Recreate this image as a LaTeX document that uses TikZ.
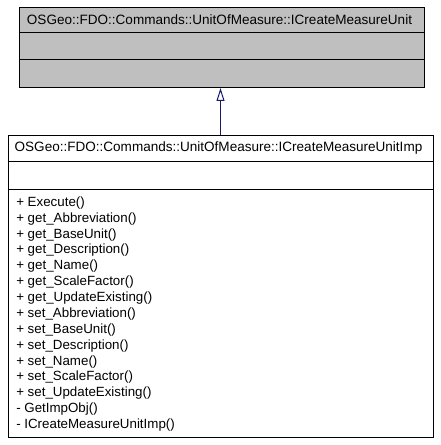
\documentclass[tikz,border=0pt]{standalone}
\usepackage{fontspec}
\setmainfont{Liberation Sans}
\usetikzlibrary{arrows.meta, positioning}
\definecolor{umlgray}{RGB}{191,191,191}
\definecolor{umlnavy}{RGB}{25,25,112}

\begin{document}
\begin{tikzpicture}[x=0.75pt,y=0.75pt,yscale=-1,xscale=1,
	classbox/.style={draw, line width=0.75pt, inner sep=0pt, anchor=north west},
	classtitle/.style={inner sep=0pt, font=\fontsize{10.15}{12}\selectfont},
	member/.style={anchor=west, inner sep=0pt, font=\fontsize{10}{12}\selectfont, text height=7.2pt, text depth=2.1pt}]
	%set diagram size 440 x 445
	\path[use as bounding box] (0,0) rectangle (440,445);
	
	%Shape: Rectangle [base class]
	\node[classbox, fill=umlgray, minimum width=303.75pt, minimum height=60pt] (base) at (19,7) {};
	%Straight Lines [base dividers]
	\draw[line width=0.75pt] (base.west |- 0,33) -- (base.east |- 0,33) ;
	\draw[line width=0.75pt] (base.west |- 0,60) -- (base.east |- 0,60) ;
	
	%Shape: Rectangle [derived class]
	\node[classbox, fill=white, minimum width=318.75pt, minimum height=226.5pt] (imp) at (7.5,135) {};
	%Straight Lines [derived dividers]
	\draw[line width=0.75pt] (imp.west |- 0,162) -- (imp.east |- 0,162) ;
	\draw[line width=0.75pt] (imp.west |- 0,189) -- (imp.east |- 0,189) ;
	
	%Straight Lines [inheritance]
	\draw[umlnavy, line width=0.75pt, -{Triangle[open, length=9.75pt, width=6pt, fill=white]}] (imp.north) -- (imp.north |- base.south) ;
	
	% Text Node
	\node[classtitle] (basename) at (219.5,20) {OSGeo::FDO::Commands::UnitOfMeasure::ICreateMeasureUnit};
	% Text Node
	\node[classtitle] (impname) at (218.5,148.5) {OSGeo::FDO::Commands::UnitOfMeasure::ICreateMeasureUnitImp};
	% Text Node [members]
	\foreach \m [count=\i from 0] in {+ Execute(), + get\_Abbreviation(), + get\_BaseUnit(), + get\_Description(), + get\_Name(), + get\_ScaleFactor(), + get\_UpdateExisting(), + set\_Abbreviation(), + set\_BaseUnit(), + set\_Description(), + set\_Name(), + set\_ScaleFactor(), + set\_UpdateExisting(), - GetImpObj(), - ICreateMeasureUnitImp()}
		\node[member] (m\i) at (16,203+15.86*\i) {\m};
	
\end{tikzpicture}
\end{document}
